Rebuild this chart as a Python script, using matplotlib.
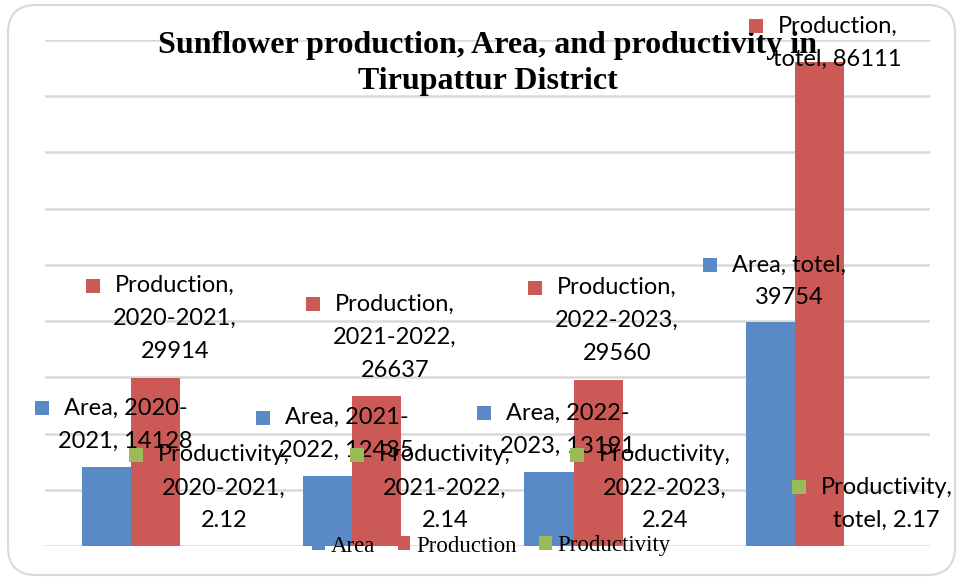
import matplotlib
matplotlib.use("Agg")
import matplotlib.pyplot as plt
import matplotlib.transforms as mtransforms
from matplotlib.patches import Patch, FancyBboxPatch
import numpy as np

# data
categories = ["2020-2021", "2021-2022", "2022-2023", "totel"]
area = [14128, 12435, 13191, 39754]
production = [29914, 26637, 29560, 86111]
productivity = [2.12, 2.14, 2.24, 2.17]

series_names = ["Area", "Production", "Productivity"]
colors = ["#5A8AC6", "#CB5A56", "#9BBB59"]

W, H = 958, 579
fig = plt.figure(figsize=(W / 100, H / 100), dpi=100)

# rounded chart frame
frame = FancyBboxPatch((8, 4), 947, 570, boxstyle="round,pad=0,rounding_size=28",
                       transform=mtransforms.IdentityTransform(),
                       facecolor="white", edgecolor="#d9d9d9", linewidth=1.5, zorder=-1)
fig.patches.append(frame)

ax = fig.add_axes([45 / W, 33 / H, 885 / W, 506 / H])
ax.patch.set_visible(False)

x = np.arange(len(categories))
w = 0.222
all_series = [area, production, productivity]
for k, vals in enumerate(all_series):
    ax.bar(x + (k - 1) * w, vals, w, color=colors[k], zorder=2)

ax.set_xlim(-0.5, 3.5)
ax.set_ylim(0, 90000)
ax.set_yticks(np.arange(0, 90001, 10000))
ax.yaxis.grid(True, color="#d9d9d9", linewidth=1.8)
ax.set_axisbelow(True)
ax.tick_params(left=False, bottom=False, labelleft=False, labelbottom=False)
for s in ax.spines.values():
    s.set_visible(False)

# title (inside axes so the data labels sit on top of it)
title_kw = dict(transform=fig.transFigure, ha="center", va="center",
                family="Liberation Serif", weight="bold", fontsize=23, zorder=1)
ax.text(487.5 / W, (H - 45) / H, "Sunflower production, Area, and productivity in", **title_kw)
ax.text(487.5 / W, (H - 82) / H, "Tirupattur District", **title_kw)


# data labels, Excel style with a legend key
def label_lines(name, cat, val):
    if name == "Area":
        if cat == "totel":
            return [f"Area, {cat},", f"{val}"]
        a, b = cat.split("-")
        return [f"Area, {a}-", f"{b}, {val}"]
    if cat == "totel":
        return [f"{name},", f"{cat}, {val}"]
    return [f"{name},", f"{cat},", f"{val}"]


# offsets (pixels) of the label block centre from the bar top
label_offsets = {
    "Area": [(19, 42), (19, 42), (19, 42), (19, 41)],
    "Production": [(19, 59), (18, 59), (19, 59), (18, 19)],
    "Productivity": [(19, 58), (19, 58), (18, 58), (18, 42)],
}
line_gap = 33
font_kw = dict(family="Lato", fontsize=17)
renderer = fig.canvas.get_renderer()

for k, name in enumerate(series_names):
    for i, cat in enumerate(categories):
        val = all_series[k][i]
        xi = x[i] + (k - 1) * w
        lines = label_lines(name, cat, val)
        dx, dy = label_offsets[name][i]
        n = len(lines)
        for j, line in enumerate(lines):
            ly = dy + ((n - 1) / 2 - j) * line_gap
            ax.annotate(line, xy=(xi, val), xytext=(dx, ly), textcoords="offset pixels",
                        ha="center", va="center", zorder=6, annotation_clip=False, **font_kw)
        tmp = fig.text(0, 0, lines[0], **font_kw)
        w1 = tmp.get_window_extent(renderer).width
        tmp.remove()
        mx = dx - w1 / 2 - 22
        my = dy + (n - 1) / 2 * line_gap
        tr = mtransforms.offset_copy(ax.transData, fig=fig, x=mx, y=my, units="dots")
        ax.plot(xi, val, marker="s", markersize=10.5, markeredgewidth=0,
                color=colors[k], transform=tr, clip_on=False, zorder=6)

handles = [Patch(facecolor=c) for c in colors]
leg = ax.legend(handles, series_names, loc="center", bbox_to_anchor=(0.5045, 0.0),
                ncol=3, frameon=False, prop={"family": "Liberation Serif", "size": 16.5},
                handlelength=0.55, handleheight=0.55, handletextpad=0.25,
                columnspacing=1.0, borderpad=0)
leg.set_zorder(5)

fig.savefig("out.png", dpi=100)
